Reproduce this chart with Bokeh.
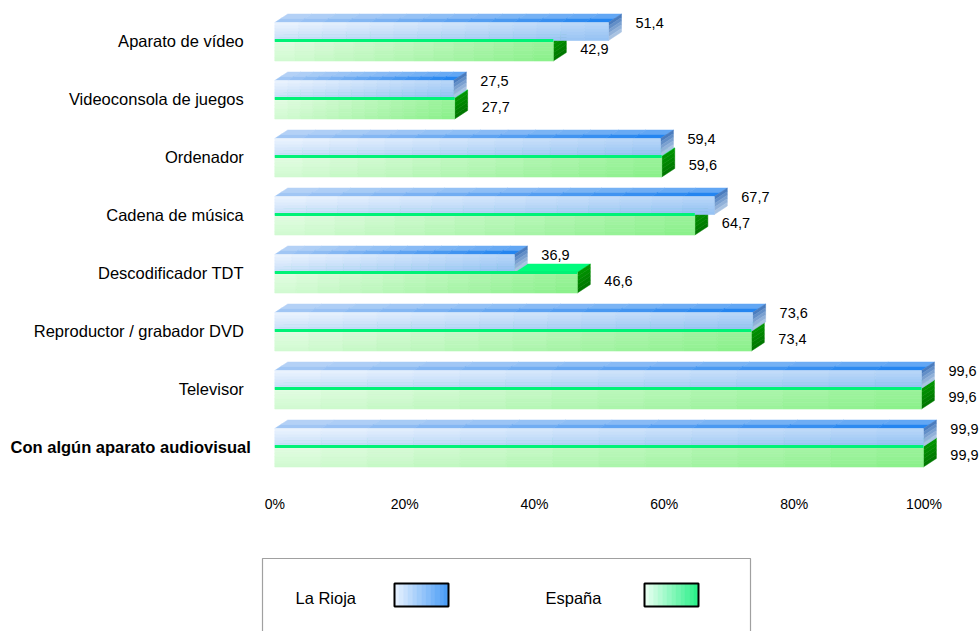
import numpy as np
from bokeh.plotting import figure
from bokeh.models import ColumnDataSource, Range1d, FixedTicker
from bokeh.layouts import column
from bokeh.embed import file_html
from bokeh.resources import INLINE
from bokeh.core.properties import value

# ---------------- data ----------------
categories = ["Aparato de vídeo", "Videoconsola de juegos", "Ordenador", "Cadena de música",
              "Descodificador TDT", "Reproductor / grabador DVD", "Televisor",
              "Con algún aparato audiovisual"]
la_rioja = [51.4, 27.5, 59.4, 67.7, 36.9, 73.6, 99.6, 99.9]
espana = [42.9, 27.7, 59.6, 64.7, 46.6, 73.4, 99.6, 99.9]
series_names = ["La Rioja", "España"]
x_ticks = [0, 20, 40, 60, 80, 100]
x_tick_labels = ["0%", "20%", "40%", "60%", "80%", "100%"]

# ---------------- layout / style ----------------
FONT = "Liberation Sans"
W = 980
H_MAIN = 538
H_LEG = 93
BOTTOM_BORDER = 50
PX_X = 6.492          # pixels per percentage point
PX_CAT = 58.0         # pixels per category
X0_PX = 274.3         # canvas pixel of 0 %
Y0_PX = 40.0          # canvas pixel of first category split line

frame_h = H_MAIN - BOTTOM_BORDER
x_start = -X0_PX / PX_X
x_end = (W - X0_PX) / PX_X
y_top = -Y0_PX / PX_CAT
y_bot = (frame_h - Y0_PX) / PX_CAT

DX = 13.0 / PX_X
DY = 8.5 / PX_CAT
BLUE_H = 18.0 / PX_CAT
GREEN_H = 20.5 / PX_CAT


def mix(c1, c2, t):
    t = max(0.0, min(1.0, t))
    a = [int(c1[i:i + 2], 16) for i in (1, 3, 5)]
    b = [int(c2[i:i + 2], 16) for i in (1, 3, 5)]
    return "#%02x%02x%02x" % tuple(int(round(a[k] + (b[k] - a[k]) * t)) for k in range(3))


def front_source(vals, y_off, h, c_light, c_dark, nx=14, ny=6, wx=0.65):
    """front face split in a grid of cells to imitate a diagonal gradient"""
    L, R, T, B, C = [], [], [], [], []
    for i, v in enumerate(vals):
        for a in range(nx):
            for k in range(ny):
                L.append(v * a / nx)
                R.append(v * (a + 1) / nx)
                T.append(i + y_off + h * k / ny)
                B.append(i + y_off + h * (k + 1) / ny)
                fx = (a + 0.5) / nx
                fy = (k + 0.5) / ny
                C.append(mix(c_light, c_dark, wx * fx + (1 - wx) * fy))
    return ColumnDataSource(dict(left=L, right=R, top=T, bottom=B, color=C))


def top_source(vals, y_off, c_left, c_right, c_back_tint, nx=14, nd=2):
    xs, ys, C = [], [], []
    for i, v in enumerate(vals):
        yt = i + y_off
        for a in range(nx):
            x0, x1 = v * a / nx, v * (a + 1) / nx
            base = mix(c_left, c_right, (a + 0.5) / nx)
            for k in range(nd):
                f0, f1 = k / nd, (k + 1) / nd
                xs.append([x0 + f0 * DX, x1 + f0 * DX, x1 + f1 * DX, x0 + f1 * DX])
                ys.append([yt - f0 * DY, yt - f0 * DY, yt - f1 * DY, yt - f1 * DY])
                C.append(mix(base, c_back_tint, 0.35 * k / max(nd - 1, 1)))
    return ColumnDataSource(dict(xs=xs, ys=ys, color=C))


def side_source(vals, y_off, h, c_top, c_bot, n=5):
    xs, ys, C = [], [], []
    for i, v in enumerate(vals):
        yt = i + y_off
        for k in range(n):
            a, b = yt + h * k / n, yt + h * (k + 1) / n
            xs.append([v, v + DX, v + DX, v])
            ys.append([a, a - DY, b - DY, b])
            C.append(mix(c_top, c_bot, k / (n - 1)))
    return ColumnDataSource(dict(xs=xs, ys=ys, color=C))


p = figure(width=W, height=H_MAIN, output_backend="svg", toolbar_location=None,
           x_range=Range1d(x_start, x_end), y_range=Range1d(y_bot, y_top),
           min_border_left=0, min_border_right=0, min_border_top=0,
           min_border_bottom=BOTTOM_BORDER, y_axis_location=None)
p.outline_line_color = None
p.grid.visible = False
p.background_fill_color = "white"
p.border_fill_color = "white"

ax = p.xaxis[0]
ax.ticker = FixedTicker(ticks=x_ticks)
ax.major_label_overrides = {t: l for t, l in zip(x_ticks, x_tick_labels)}
ax.axis_line_color = None
ax.major_tick_line_color = None
ax.minor_tick_line_color = None
ax.major_tick_out = 0
ax.major_tick_in = 0
ax.major_label_standoff = 7
ax.major_label_text_font = FONT
ax.major_label_text_font_size = "14px"
ax.major_label_text_color = "black"

# ---- España (green) bars ----
g_top = top_source(espana, 0.0, "#00f070", "#00ff80", "#00ff80", nx=2, nd=1)
p.patches("xs", "ys", source=g_top, fill_color="color", line_color="color", line_width=0.5)
g_side = side_source(espana, 0.0, GREEN_H, "#009400", "#007800")
p.patches("xs", "ys", source=g_side, fill_color="color", line_color="color", line_width=0.5)
g_front = front_source(espana, 0.0, GREEN_H, "#e6fde6", "#88f088", wx=0.8)
p.quad(left="left", right="right", top="top", bottom="bottom", source=g_front,
       fill_color="color", line_color="color", line_width=0.6)

# ---- La Rioja (blue) bars ----
b_top = top_source(la_rioja, -BLUE_H, "#a6c9f4", "#1f82f0", "#d6e6fa")
p.patches("xs", "ys", source=b_top, fill_color="color", line_color="color", line_width=0.5)
b_side = side_source(la_rioja, -BLUE_H, BLUE_H, "#4a7cbe", "#a9c3e2")
p.patches("xs", "ys", source=b_side, fill_color="color", line_color="color", line_width=0.5)
b_front = front_source(la_rioja, -BLUE_H, BLUE_H, "#eef5fe", "#92c0f3", wx=0.6)
p.quad(left="left", right="right", top="top", bottom="bottom", source=b_front,
       fill_color="color", line_color="color", line_width=0.6)

# bright green edge on top of the España bars
idx = list(range(len(categories)))
p.segment(x0=[0] * len(espana), y0=idx, x1=espana, y1=idx, line_color="#00f276", line_width=3)

# ---- value labels ----
fmt = lambda v: ("%.1f" % v).replace(".", ",")
p.text(x=la_rioja, y=[i - BLUE_H for i in idx], text=[fmt(v) for v in la_rioja],
       x_offset=27, text_align="left", text_baseline="middle",
       text_font=value(FONT), text_font_size="14.5px", text_color="black")
p.text(x=espana, y=[i + 0.14 for i in idx], text=[fmt(v) for v in espana],
       x_offset=27, text_align="left", text_baseline="middle",
       text_font=value(FONT), text_font_size="14.5px", text_color="black")

# ---- category labels ----
n_cat = len(categories)
styles = ["normal"] * (n_cat - 1) + ["bold"]
offsets = [-31] * (n_cat - 1) + [-24]
cat_src = ColumnDataSource(dict(x=[0] * n_cat, y=idx, text=categories,
                                style=styles, off=offsets))
p.text(x="x", y="y", text="text", source=cat_src, x_offset="off", text_align="right",
       text_baseline="middle", text_font=value(FONT), text_font_size="16.5px",
       text_font_style="style", text_color="black")

# ---------------- legend figure ----------------
lg = figure(width=W, height=H_LEG, output_backend="svg", toolbar_location=None,
            x_range=Range1d(0, W), y_range=Range1d(H_LEG, 0),
            min_border=0, x_axis_location=None, y_axis_location=None)
lg.outline_line_color = None
lg.grid.visible = False
lg.border_fill_color = "white"

box_l, box_r, box_t = 262, 750, 20
lg.quad(left=[box_l], right=[box_r], top=[box_t], bottom=[H_LEG + 10],
        fill_color=None, line_color="#a0a0a0", line_width=1.2)

item_x = [295, 545]
sw_x = [394, 644]
sw_w = 54
sw_t, sw_b = 45, 68
cy = 59
sw_cols = [("#e4f0ff", "#4d9ef5"), ("#e6fff0", "#2ef08a")]
for k, name in enumerate(series_names):
    lg.text(x=[item_x[k]], y=[cy], text=[name], text_align="left", text_baseline="middle",
            text_font=value(FONT), text_font_size="16.5px", text_color="black")
    n = 12
    L, R, C = [], [], []
    for j in range(n):
        L.append(sw_x[k] + sw_w * j / n)
        R.append(sw_x[k] + sw_w * (j + 1) / n)
        C.append(mix(sw_cols[k][0], sw_cols[k][1], j / (n - 1)))
    lg.quad(left=L, right=R, top=[sw_t] * n, bottom=[sw_b] * n, fill_color=C, line_color=C,
            line_width=0.5)
    lg.quad(left=[sw_x[k]], right=[sw_x[k] + sw_w], top=[sw_t], bottom=[sw_b],
            fill_color=None, line_color="black", line_width=2)

layout = column(p, lg, spacing=0)
open("out.html", "w").write(file_html(layout, INLINE))
